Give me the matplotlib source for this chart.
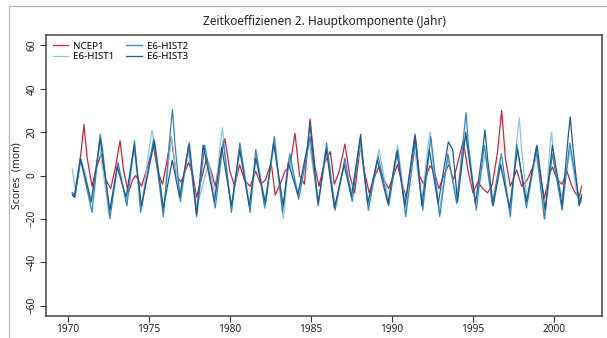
import numpy as np
import matplotlib
matplotlib.use("Agg")
import matplotlib.pyplot as plt
from matplotlib.lines import Line2D

plt.rcParams['font.family'] = ['Noto Sans', 'DejaVu Sans']

# NCEP1 (rot)
t_ncep = [1970.28, 1970.45, 1970.75, 1971.0, 1971.2, 1971.5, 1971.75, 1972.05, 1972.35, 1972.65,
          1972.95, 1973.23, 1973.45, 1973.74, 1974.0, 1974.2, 1974.55, 1975.0, 1975.28, 1975.55,
          1975.85, 1976.1, 1976.38, 1976.7, 1977.0, 1977.25, 1977.45, 1977.7, 1977.95, 1978.3,
          1978.57, 1978.85, 1979.1, 1979.4, 1979.7, 1980.0, 1980.3, 1980.6, 1980.9, 1981.25,
          1981.6, 1981.9, 1982.2, 1982.55, 1982.8, 1983.1, 1983.4, 1983.7, 1984.02, 1984.3,
          1984.6, 1984.95, 1985.25, 1985.5, 1985.8, 1986.2, 1986.45, 1986.75, 1987.1, 1987.4,
          1987.7, 1988.05, 1988.3, 1988.6, 1988.96, 1989.2, 1989.5, 1989.8, 1990.1, 1990.35,
          1990.6, 1990.9, 1991.2, 1991.45, 1991.7, 1991.95, 1992.35, 1992.6, 1992.9, 1993.2,
          1993.5, 1993.8, 1994.0, 1994.4, 1994.7, 1995.0, 1995.3, 1995.6, 1995.9, 1996.2,
          1996.5, 1996.77, 1997.0, 1997.3, 1997.7, 1998.0, 1998.35, 1998.7, 1998.95, 1999.2,
          1999.4, 1999.7, 1999.9, 2000.2, 2000.5, 2000.8, 2001.05, 2001.3, 2001.55, 2001.7]
v_ncep = [-8, -9, 6, 23.5, 8, -5, 3, 10, -2, -6,
          4, 16, 2, -8, -2, 0, -5, 6, 14, 2,
          -4, 6, 18, 0, -3, 2, 6, 1, -10, 0,
          8, 2, -5, 8, 17, 2, -5, 5, -2, -5,
          2, -4, -2, 6, -9, -4, 2, 4, 19.5, 0,
          -4, 26, 4, -5, 5, 11, -4, 2, 14.5, 0,
          -8, 14, 2, -8, 0, 4, -2, -6, 0, 5,
          -3, -10.5, 5, 18, 0, -4, 4.5, 2, -6, 0,
          5, -2, 4, 16, 2, -8, -3, -6, -8, -4,
          10, 30, 8, -5, 2.5, -5, -2, 4, 10, -2,
          -10.5, 0, 4, -2, -4, 2, -4, -8, -10, -5]

# E6-HIST1 (hellblau)
t_h1 = [1970.28, 1970.45, 1970.8, 1971.05, 1971.45, 1971.95, 1972.55, 1973.1, 1973.6, 1974.1,
        1974.55, 1975.05, 1975.2, 1975.5, 1975.9, 1976.4, 1976.9, 1977.5, 1977.95, 1978.7,
        1979.1, 1979.4, 1979.54, 1979.7, 1980.1, 1980.65, 1981.25, 1981.65, 1982.15, 1982.75,
        1983.3, 1983.65, 1984.2, 1984.9, 1985.45, 1986.0, 1986.5, 1987.1, 1987.5, 1988.05,
        1988.55, 1989.2, 1989.8, 1990.35, 1990.85, 1991.4, 1991.85, 1992.2, 1992.35, 1992.5,
        1992.9, 1993.45, 1994.0, 1994.55, 1995.15, 1995.75, 1996.2, 1996.7, 1997.3, 1997.7,
        1997.86, 1998.0, 1998.35, 1998.9, 1999.45, 1999.75, 1999.85, 2000.0, 2000.5, 2001.0,
        2001.4, 2001.7]
v_h1 = [3, -6, 8, 2, -13, 14, -18, 5, -12, 12,
        -15, 14, 21, 8, -17, 18, -10, 12, -15, 6,
        -10, 14, 22, 10, -15, 12, -15, 10, -12, 14,
        -20, 8, -8, 15, -12, 12, -14, 6, -8, 14,
        -14, 12, -12, 14, -15, 12, -12, 12, 20, 8,
        -17, 8, -10, 18, -12, 10, -14, 6, -16, 16,
        26.5, 12, -12, 10, -20, 14, 20, 6, -10, 12,
        -8, -12]

# E6-HIST2 (mittelblau)
t_h2 = [1970.28, 1970.45, 1970.8, 1971.5, 1972.0, 1972.15, 1972.6, 1973.1, 1973.65, 1974.12,
        1974.5, 1975.3, 1975.9, 1976.3, 1976.46, 1976.6, 1976.95, 1977.45, 1977.95, 1978.45,
        1979.1, 1979.6, 1980.1, 1980.62, 1981.25, 1981.6, 1982.15, 1982.6, 1982.75, 1983.25,
        1983.7, 1984.25, 1984.95, 1985.45, 1985.97, 1986.5, 1987.1, 1987.55, 1988.05, 1988.55,
        1989.15, 1989.8, 1990.35, 1990.85, 1991.45, 1991.9, 1992.4, 1992.95, 1993.45, 1994.0,
        1994.42, 1994.57, 1994.72, 1995.2, 1995.7, 1996.2, 1996.75, 1997.3, 1997.7, 1998.3,
        1998.9, 1999.4, 1999.9, 2000.5, 2000.97, 2001.6, 2001.7]
v_h2 = [-8, -10, 7, -17, 19, 12, -20, 6, -14, 16,
        -17, 17, -19, 18, 30.5, 16, -12, 14, -19, 14,
        -15, 16, -17, 15, -17, 12, -15, 10, 18, -17,
        10, -11, 18, -14, 15, -16, 8, -12, 17, -16,
        9, -14, 12, -19, 16, -16, 18, -19, 10, -13,
        18, 29, 14, -16, 14, -13, 10, -19, 14.5, -15,
        13, -20, 10, -16, 15, -13, -10]

# E6-HIST3 (dunkelblau)
t_h3 = [1970.28, 1970.4, 1970.78, 1971.45, 1972.0, 1972.6, 1973.05, 1973.6, 1974.1, 1974.55,
        1975.35, 1975.9, 1976.45, 1976.9, 1977.5, 1977.95, 1978.35, 1979.05, 1979.5, 1980.1,
        1980.6, 1981.2, 1981.6, 1982.2, 1982.7, 1983.3, 1983.6, 1984.2, 1984.8, 1984.95,
        1985.1, 1985.45, 1985.95, 1986.45, 1987.05, 1987.5, 1988.07, 1988.2, 1988.5, 1989.1,
        1989.75, 1990.3, 1990.8, 1991.42, 1991.85, 1992.3, 1992.85, 1993.48, 1993.75, 1994.05,
        1994.55, 1995.15, 1995.6, 1995.74, 1995.9, 1996.25, 1996.7, 1997.25, 1997.75, 1998.3,
        1998.95, 1999.45, 1999.9, 2000.5, 2000.85, 2001.0, 2001.15, 2001.55, 2001.7]
v_h3 = [-9, -10, 8, -12, 17, -16, 4, -10, 14, -14,
        16, -15, 7, -10, 15, -18, 14, -12, 13, -14,
        12, -14, 8, -13, 15, -14, 6, -9, 14, 24.5,
        12, -13, 12, -15, 5, -10, 19, 8, -13, 7,
        -13, 11, -14, 19, -14, 12, -13, 15.5, 12, -12,
        20, -13, 12, 21, 8, -14, 5, -15, 12, -12,
        14, -16, 14, -14, 16, 27, 14, -14, -9]

col_ncep = "#c8233b"
col_h1 = "#8fc4dd"
col_h2 = "#2f87c0"
col_h3 = "#1d5a8e"

fig = plt.figure(figsize=(6.07, 3.38), dpi=100)
ax = fig.add_axes([46/607, 1-316/338, 556/607, 281/338])

lw = 0.9
ax.plot(t_ncep, v_ncep, color=col_ncep, lw=lw, label="NCEP1")
ax.plot(t_h1, v_h1, color=col_h1, lw=lw, label="E6-HIST1")
ax.plot(t_h2, v_h2, color=col_h2, lw=lw, label="E6-HIST2")
ax.plot(t_h3, v_h3, color=col_h3, lw=lw, label="E6-HIST3")

ax.set_xlim(1968.66, 2002.96)
ax.set_ylim(-64.8, 64.8)
ax.set_xticks([1970, 1975, 1980, 1985, 1990, 1995, 2000])
ax.set_yticks([-60, -40, -20, 0, 20, 40, 60])
ax.tick_params(axis='both', labelsize=7.3, length=4, width=0.8, color="#333333",
               labelcolor="#222222", pad=2)
for lab in ax.get_yticklabels():
    lab.set_rotation(90)
    lab.set_va("center")
for sp in ax.spines.values():
    sp.set_color("#444444")
    sp.set_linewidth(1.1)

ax.set_ylabel("Scores  (mon)", fontsize=7.5, color="#222222", labelpad=3)
ax.set_title("Zeitkoeffizienen 2. Hauptkomponente (Jahr)", fontsize=8.5,
             color="#222222", pad=7)

leg = ax.legend(loc="upper left", ncol=2, fontsize=7, frameon=False,
                handlelength=1.6, handletextpad=0.5, columnspacing=1.2,
                labelspacing=0.15, borderaxespad=0.3)

# grauer Rahmen der Vorlage
fig.add_artist(Line2D([9/607, 1], [1-6/338, 1-6/338], color="#b5b5b5", lw=0.9))
fig.add_artist(Line2D([9/607, 9/607], [0, 1-6/338], color="#b5b5b5", lw=0.9))

fig.savefig("out.png", dpi=100)
